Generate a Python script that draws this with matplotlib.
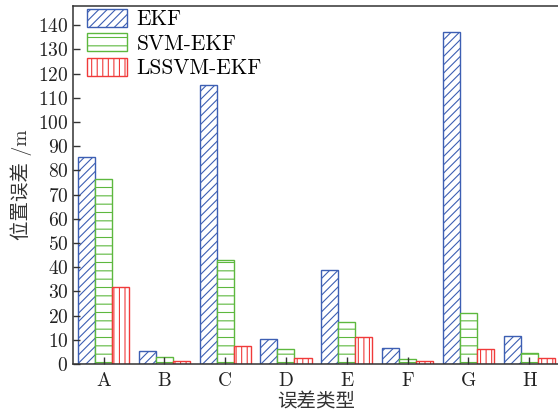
import numpy as np
import matplotlib
matplotlib.use('Agg')
import matplotlib.pyplot as plt

# --- Data ---
categories = ['A', 'B', 'C', 'D', 'E', 'F', 'G', 'H']
ekf = [85.5, 5.4, 115.3, 10.4, 39.0, 6.8, 137.0, 11.5]
svm_ekf = [76.5, 2.8, 43.0, 6.3, 17.5, 2.2, 21.0, 4.4]
lssvm_ekf = [32.0, 1.4, 7.6, 2.6, 11.3, 1.4, 6.3, 2.4]
series_names = ['EKF', 'SVM-EKF', 'LSSVM-EKF']
yticks = list(range(0, 150, 10))

plt.rcParams['font.family'] = ['cmr10', 'Noto Sans CJK SC']
plt.rcParams['mathtext.fontset'] = 'cm'
plt.rcParams['axes.formatter.use_mathtext'] = True
plt.rcParams['hatch.linewidth'] = 0.8
plt.rcParams['font.size'] = 14

colors = ['#3d5fb3', '#5db83e', '#f03a3a']
hatches = ['////', '--', '|||']

fig = plt.figure(figsize=(5.58, 4.19), dpi=100)
ax = fig.add_axes([0.131, 0.131, 0.872, 0.855])

x = np.arange(len(categories))
w = 0.28
for i, (vals, name) in enumerate(zip([ekf, svm_ekf, lssvm_ekf], series_names)):
    ax.bar(x + (i - 1) * w, vals, w, facecolor='white', edgecolor=colors[i],
           hatch=hatches[i], linewidth=1.0, label=name)

ax.set_xlim(-0.5, 7.5)
ax.set_ylim(0, 148)
ax.set_xticks(x)
ax.set_xticklabels(categories)
ax.set_yticks(yticks)
ax.tick_params(direction='in', length=5, width=1.0, color='#333333', labelcolor='#222222')
ax.tick_params(axis='x', pad=6)
for s in ['left', 'bottom', 'top']:
    ax.spines[s].set_color('#333333')
    ax.spines[s].set_linewidth(1.1)
ax.spines['right'].set_visible(False)

ax.set_xlabel('误差类型', color='#333333', labelpad=2)
ax.set_ylabel('位置误差 /m', color='#333333', labelpad=4)

ax.legend(loc='upper left', bbox_to_anchor=(14 / 486.6, 1 - 3 / 358.0),
          frameon=False, fontsize=15.4, handlelength=1.87, handleheight=0.9,
          borderaxespad=0, borderpad=0, labelspacing=0.2, handletextpad=0.45)

fig.savefig('out.png', dpi=100)
